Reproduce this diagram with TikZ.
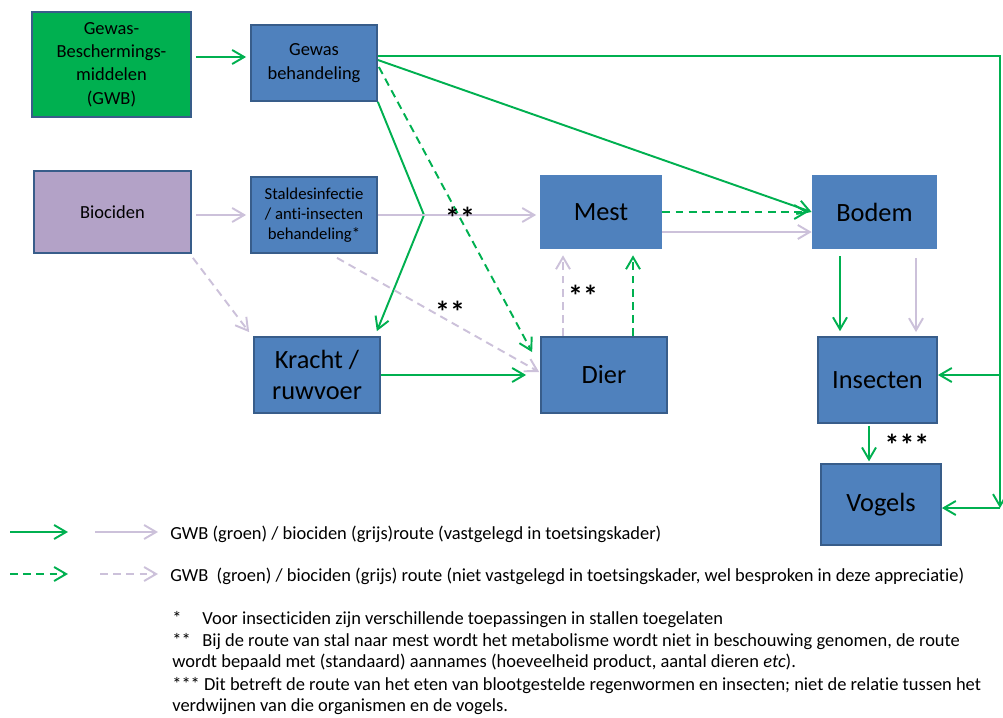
\documentclass[tikz,border=0pt]{standalone}
\usepackage{fontspec}
\setmainfont{Carlito}[Ligatures=NoCommon]
\usetikzlibrary{arrows.meta,calc}
\definecolor{gwbgreen}{RGB}{0,176,80}
\definecolor{boxblue}{RGB}{79,129,189}
\definecolor{boxedge}{RGB}{56,93,138}
\definecolor{biolilac}{RGB}{179,162,199}
\definecolor{biogrey}{RGB}{204,193,218}
\begin{document}
\begin{tikzpicture}[x=0.02cm,y=-0.02cm,
    box/.style={fill=boxblue,draw=boxedge,line width=1pt,align=center,inner sep=1pt},
    flatbox/.style={fill=boxblue,align=center,inner sep=1pt},
    small/.style={font=\fontsize{10.5}{13.3}\selectfont},
    big/.style={font=\fontsize{15}{18}\selectfont},
    groute/.style={gwbgreen,line width=1.1pt,-{Straight Barb[length=2.4mm,width=2.8mm]}},
    broute/.style={biogrey,line width=1.1pt,-{Straight Barb[length=2.4mm,width=2.8mm]}},
    dashroute/.style={dash pattern=on 4.5pt off 3pt},
    stars/.style={font=\fontsize{17}{17}\selectfont\bfseries,inner sep=0pt},
    legend/.style={anchor=base west,font=\fontsize{10.5}{12}\selectfont,inner sep=0pt}]
    \useasboundingbox (0,0) rectangle (1003,717);
    % sources
    \node[box,fill=gwbgreen,minimum width=3.18cm,minimum height=2.1cm,small] (gwb) at (111.5,64.5) {Gewas-\\Beschermings-\\middelen\\(GWB)};
    \node[box,fill=biolilac,minimum width=3.14cm,minimum height=1.64cm,small] (bio) at (112.5,212) {Biociden};
    \node[box,minimum width=2.52cm,minimum height=1.52cm,small] (gewas) at (314,63) {Gewas\\behandeling};
    \node[box,minimum width=2.52cm,minimum height=1.52cm,font=\fontsize{9.5}{11.3}\selectfont] (stal) at (314,215) {Staldesinfectie\\/ anti-insecten\\behandeling*};
    % compartments
    \node[flatbox,minimum width=2.44cm,minimum height=1.48cm,big] (mest) at (601,212) {Mest};
    \node[flatbox,minimum width=2.5cm,minimum height=1.48cm,big] (bodem) at (874.5,212) {Bodem};
    \node[box,minimum width=2.52cm,minimum height=1.52cm,big] (kracht) at (317,375) {Kracht /\\ruwvoer};
    \node[box,minimum width=2.52cm,minimum height=1.52cm,big] (dier) at (604,375) {Dier};
    \node[box,minimum width=2.38cm,minimum height=1.72cm,big] (insect) at (877.5,380) {Insecten};
    \node[box,minimum width=2.4cm,minimum height=1.62cm,big] (vogels) at (881,504.5) {Vogels};
    \coordinate (rtop) at (1000,56);
    \coordinate (rmid) at (1000,375);
    \coordinate (rbot) at (1000,508);
    \coordinate (kink) at (424,215);
    % GWB routes
    \draw[groute,shorten <=2.3pt,shorten >=2.3pt] (gwb.east |- 0,57) -- (gewas.west |- 0,57);
    \draw[groute] (gewas.east |- rtop) -- (rtop) -- (rbot);
    \draw[groute] (rmid) -- (insect.east |- rmid);
    \draw[groute] (rbot) -- (vogels.east |- rbot);
    \draw[groute] ($(gewas.east)+(0,-3)$) -- (bodem.west);
    \draw[groute,dashroute] ($(gewas.east)+(1,4)$) -- ($(dier.north west)+(-8,16)$);
    \draw[groute] (gewas.south east) -- (kink) -- ($(kracht.north east)+(-4,-5)$);
    \draw[groute,shorten >=8pt] (kracht.east) -- (dier.west);
    \draw[groute,dashroute,shorten >=2pt] (mest.east) -- (bodem.west);
    \draw[groute,dashroute,shorten >=3.4pt] (dier.north -| 633,0) -- (mest.south -| 633,0);
    \draw[groute,shorten <=4pt,shorten >=2.8pt] (bodem.south -| 840,0) -- (insect.north -| 840,0);
    \draw[groute,shorten <=1pt,shorten >=1pt] (insect.south -| 869,0) -- (vogels.north -| 869,0);
    % biocide routes
    \draw[broute,shorten <=2.3pt,shorten >=2.3pt] (bio.east |- stal.west) -- (stal.west);
    \draw[broute,shorten >=2pt] (stal.east) -- (mest.west |- stal.east);
    \draw[broute,dashroute] ($(bio.south east)+(1,4)$) -- ($(kracht.north west)+(-4,-4)$);
    \draw[broute,dashroute] ($(stal.south)+(23,4)$) -- ($(dier.west)+(-1,-3)$);
    \draw[broute] (mest.east |- 0,232) -- (bodem.west |- 0,232);
    \draw[broute,dashroute,shorten >=3.4pt] (dier.north -| 563,0) -- (mest.south -| 563,0);
    \draw[broute,shorten <=5pt,shorten >=2.3pt] (bodem.south -| 916,0) -- (insect.north -| 916,0);
    % footnote marks
    \node[stars] (st1) at (460,218) {**};
    \node[stars] (st2) at (450,312) {**};
    \node[stars] (st3) at (583,296) {**};
    \node[stars] (st4) at (907,445) {***};
    % legend
    \coordinate (l1a) at (10,532);
    \coordinate (l1b) at (68,532);
    \coordinate (l1c) at (95,532);
    \coordinate (l1d) at (158,532);
    \coordinate (l2a) at (10,574);
    \coordinate (l2b) at (68,574);
    \coordinate (l2c) at (100,574);
    \coordinate (l2d) at (158,574);
    \draw[groute] (l1a) -- (l1b);
    \draw[broute] (l1c) -- (l1d);
    \draw[groute,dashroute] (l2a) -- (l2b);
    \draw[broute,dashroute] (l2c) -- (l2d);
    \node[legend] (leg1) at (170,539) {GWB (groen) / biociden (grijs)route (vastgelegd in toetsingskader)};
    \node[legend] (leg2) at (170,581) {GWB\ \ (groen) / biociden (grijs) route (niet vastgelegd in toetsingskader, wel besproken in deze appreciatie)};
    \node[legend] (fn1) at (172,624) {\makebox[0.6cm][l]{*}Voor insecticiden zijn verschillende toepassingen in stallen toegelaten};
    \node[legend] (fn2) at (172,646) {\makebox[0.6cm][l]{**}Bij de route van stal naar mest wordt het metabolisme wordt niet in beschouwing genomen, de route};
    \node[legend] (fn3) at (172,667) {wordt bepaald met (standaard) aannames (hoeveelheid product, aantal dieren \emph{etc}).};
    \node[legend] (fn4) at (172,690) {*** Dit betreft de route van het eten van blootgestelde regenwormen en insecten; niet de relatie tussen het};
    \node[legend] (fn5) at (172,711) {verdwijnen van die organismen en de vogels.};
\end{tikzpicture}
\end{document}
